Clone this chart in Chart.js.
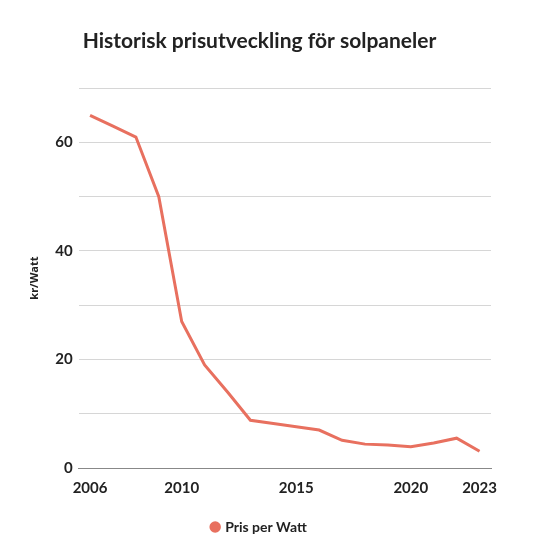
<!DOCTYPE html>
<html>
<head>
<meta charset="utf-8">
<script src="https://cdn.jsdelivr.net/npm/chart.js@4"></script>
<style>
    html, body { margin: 0; padding: 0; background: #fff; }
    #wrap { width: 550px; height: 550px; }
</style>
</head>
<body>
<div id="wrap"><canvas id="priceChart"></canvas></div>
<script>
// Pris per Watt (kr) per år
const years = ['2006', '2007', '2008', '2009', '2010', '2011', '2012', '2013', '2014',
               '2015', '2016', '2017', '2018', '2019', '2020', '2021', '2022', '2023'];
const pricePerWatt = [65, 63, 61, 50, 27, 19, 14, 8.8, 8.2, 7.6, 7.0, 5.1, 4.4, 4.25, 3.9, 4.6, 5.5, 3.1];
const shownYears = ['2006', '2010', '2015', '2020', '2023'];

const lineColor = '#e8705f';
const fontFamily = "'Lato', 'Open Sans', sans-serif";

new Chart(document.getElementById('priceChart'), {
    type: 'line',
    data: {
        labels: years,
        datasets: [{
            label: 'Pris per Watt',
            data: pricePerWatt,
            borderColor: lineColor,
            backgroundColor: lineColor,
            borderWidth: 3,
            pointRadius: 0,
            tension: 0
        }]
    },
    options: {
        responsive: true,
        maintainAspectRatio: false,
        animation: false,
        layout: {
            padding: { left: 28, right: 59, top: 10, bottom: 6 }
        },
        plugins: {
            title: {
                display: true,
                text: 'Historisk prisutveckling för solpaneler',
                color: '#222',
                font: { family: fontFamily, size: 21, weight: 'bold' },
                padding: { top: 19, bottom: 34 }
            },
            legend: {
                position: 'bottom',
                labels: {
                    usePointStyle: true,
                    pointStyle: 'circle',
                    boxWidth: 6,
                    boxHeight: 6,
                    color: '#222',
                    font: { family: fontFamily, size: 14, weight: 'bold' },
                    padding: 20
                }
            },
            tooltip: { enabled: false }
        },
        scales: {
            x: {
                offset: true,
                grid: { display: false },
                border: { color: '#888', width: 1 },
                ticks: {
                    autoSkip: false,
                    maxRotation: 0,
                    color: '#222',
                    font: { family: fontFamily, size: 15, weight: 'bold' },
                    callback: function (value) {
                        const label = this.getLabelForValue(value);
                        return shownYears.includes(label) ? label : '';
                    }
                }
            },
            y: {
                min: 0,
                max: 70,
                grid: { color: '#d6d6d6', drawTicks: false },
                border: { display: false },
                title: {
                    display: true,
                    text: 'kr/Watt',
                    color: '#222',
                    font: { family: "'Open Sans', sans-serif", size: 11, weight: 'bold' },
                    padding: { top: 0, bottom: 8 }
                },
                ticks: {
                    stepSize: 10,
                    padding: 6,
                    color: '#222',
                    font: { family: fontFamily, size: 15, weight: 'bold' },
                    callback: value => (value % 20 === 0 ? value : '')
                }
            }
        }
    }
});
</script>
</body>
</html>
